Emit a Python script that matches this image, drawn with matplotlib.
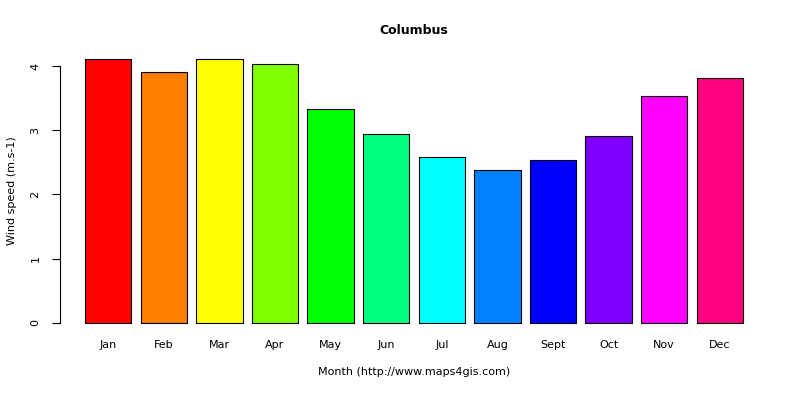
import matplotlib
matplotlib.use("Agg")
import matplotlib.pyplot as plt

months = ["Jan","Feb","Mar","Apr","May","Jun","Jul","Aug","Sept","Oct","Nov","Dec"]
wind = [4.11, 3.91, 4.11, 4.03, 3.33, 2.94, 2.58, 2.38, 2.54, 2.91, 3.53, 3.81]
colors = ["#FF0000","#FF8000","#FFFF00","#80FF00","#00FF00","#00FF80",
          "#00FFFF","#0080FF","#0000FF","#8000FF","#FF00FF","#FF0080"]

W, H = 800, 400
fig = plt.figure(figsize=(8, 4), dpi=100)
l, r, t, b = 58.7, 769.3, 48.6, 333.5
ax = fig.add_axes([l/W, 1-b/H, (r-l)/W, (b-t)/H])
x = [0.7 + 1.2*i for i in range(len(months))]
ax.bar(x, wind, width=1.0, color=colors, edgecolor="black", linewidth=0.8)
ax.set_xlim(-0.368, 14.968)
ax.set_ylim(-0.164, 4.27)
for s in ["top", "right", "bottom"]:
    ax.spines[s].set_visible(False)
ax.spines["left"].set_bounds(0, 4)
ax.spines["left"].set_position(("data", -0.368 + 1.3/46.3))
ax.set_yticks([0, 1, 2, 3, 4])
ax.set_yticklabels(["0","1","2","3","4"], rotation=90, va="center", fontsize=8)
ax.tick_params(axis="y", length=6, pad=8)
ax.set_xticks(x)
ax.set_xticklabels(months, fontsize=8)
ax.tick_params(axis="x", length=0, pad=5)
ax.set_ylabel("Wind speed (m.s-1)", fontsize=8, labelpad=10)
ax.set_xlabel("Month (http://www.maps4gis.com)", fontsize=8, labelpad=12)
fig.text(414/W, 1-31/H, "Columbus", ha="center", va="center", fontsize=9, fontweight="bold")
fig.savefig("out.png", dpi=100)
